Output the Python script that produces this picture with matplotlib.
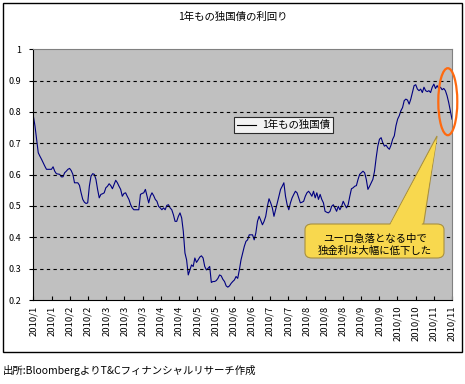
import numpy as np
import matplotlib
matplotlib.use('Agg')
import matplotlib.pyplot as plt
from matplotlib.patches import Ellipse, FancyBboxPatch, Polygon

plt.rcParams['font.family'] = ['Noto Sans CJK JP', 'DejaVu Sans']

# 1年もの独国債の利回り (日次, 2010/1 - 2010/11) 画像から読み取り
yield_jan_mar = [0.788, 0.756, 0.713, 0.670, 0.659, 0.649, 0.638, 0.627, 0.617, 0.617,
                 0.617, 0.617, 0.625, 0.611, 0.603, 0.602, 0.601, 0.593, 0.593, 0.606,
                 0.611, 0.617, 0.620, 0.613, 0.601, 0.574, 0.574, 0.574, 0.566, 0.542,
                 0.521, 0.512, 0.508, 0.510, 0.563, 0.595, 0.603, 0.601, 0.585, 0.553,
                 0.526, 0.537, 0.539, 0.542, 0.558, 0.563, 0.571, 0.565, 0.555, 0.569,
                 0.582, 0.574, 0.563, 0.553, 0.531, 0.540, 0.542, 0.531, 0.521, 0.505]
yield_apr_jun = [0.494, 0.488, 0.488, 0.488, 0.488, 0.537, 0.540, 0.542, 0.553, 0.531,
                 0.510, 0.531, 0.542, 0.533, 0.521, 0.515, 0.499, 0.494, 0.488, 0.494,
                 0.488, 0.502, 0.504, 0.494, 0.488, 0.472, 0.451, 0.451, 0.467, 0.478,
                 0.462, 0.419, 0.350, 0.328, 0.280, 0.296, 0.312, 0.307, 0.334, 0.320,
                 0.328, 0.337, 0.341, 0.334, 0.307, 0.296, 0.301, 0.307, 0.256, 0.259,
                 0.259, 0.262, 0.269, 0.280, 0.277, 0.266, 0.259, 0.245, 0.241, 0.245]
yield_jul_aug = [0.253, 0.259, 0.264, 0.275, 0.269, 0.296, 0.328, 0.350, 0.371, 0.387,
                 0.392, 0.408, 0.408, 0.408, 0.392, 0.414, 0.451, 0.467, 0.454, 0.440,
                 0.451, 0.467, 0.499, 0.523, 0.510, 0.494, 0.467, 0.488, 0.510, 0.531,
                 0.553, 0.563, 0.574, 0.531, 0.504, 0.488, 0.510, 0.526, 0.537, 0.547,
                 0.542, 0.526, 0.510, 0.512, 0.515, 0.531, 0.542, 0.547, 0.540, 0.531,
                 0.547, 0.526, 0.542, 0.521, 0.537, 0.521, 0.510, 0.483, 0.480, 0.478,
                 0.483]
yield_sep_nov = [0.499, 0.504, 0.494, 0.483, 0.499, 0.488, 0.499, 0.515, 0.504, 0.494,
                 0.504, 0.531, 0.555, 0.558, 0.563, 0.565, 0.585, 0.601, 0.606, 0.611,
                 0.606, 0.585, 0.553, 0.563, 0.574, 0.585, 0.611, 0.654, 0.691, 0.713,
                 0.718, 0.702, 0.691, 0.694, 0.686, 0.681, 0.694, 0.713, 0.724, 0.756,
                 0.777, 0.788, 0.804, 0.814, 0.836, 0.841, 0.838, 0.825, 0.841, 0.862,
                 0.884, 0.887, 0.873, 0.868, 0.873, 0.862, 0.879, 0.868, 0.865, 0.868,
                 0.862, 0.879, 0.889, 0.875, 0.884, 0.875, 0.879, 0.871, 0.875, 0.868,
                 0.852, 0.830, 0.804, 0.777]
yields = yield_jan_mar + yield_apr_jun + yield_jul_aug + yield_sep_nov

tick_labels = ['2010/1', '2010/1', '2010/2', '2010/2', '2010/3', '2010/3', '2010/3',
               '2010/4', '2010/4', '2010/5', '2010/5', '2010/6', '2010/6', '2010/7',
               '2010/7', '2010/8', '2010/8', '2010/8', '2010/9', '2010/9', '2010/10',
               '2010/10', '2010/11', '2010/11']
y_ticks = [0.2, 0.3, 0.4, 0.5, 0.6, 0.7, 0.8, 0.9, 1.0]
y_labels = ['0.2', '0.3', '0.4', '0.5', '0.6', '0.7', '0.8', '0.9', '1']

W, H = 465, 384
def px(x, y):
    # pixel -> figure fraction
    return x / W, 1 - y / H

fig = plt.figure(figsize=(W / 100, H / 100), dpi=100)
fig.patch.set_facecolor('white')

# outer frame
fig.patches.append(plt.Rectangle(px(3, 352), 459 / W, 349 / H, transform=fig.transFigure,
                                 fill=False, edgecolor='black', lw=1))

l, b = px(33.3, 300)
ax = fig.add_axes([l, b, (452 - 33.3) / W, (300 - 49.3) / H])
ax.set_facecolor('#C0C0C0')

n = len(yields)
x = np.arange(n)
line, = ax.plot(x, yields, color='#000080', lw=0.8, label='1年もの独国債')

ax.set_xlim(0, n - 1)
ax.set_ylim(0.2, 1.0)
ax.set_yticks(y_ticks)
ax.set_yticklabels(y_labels, fontsize=6.5)
ax.set_xticks(np.linspace(0, n - 1, len(tick_labels)))
ax.set_xticklabels(tick_labels, rotation=90, fontsize=6.8)
ax.tick_params(axis='x', direction='in', length=3, pad=4)
ax.tick_params(axis='y', direction='out', length=3, pad=6)
for yv in y_ticks[1:-1]:
    ax.axhline(yv, color='black', lw=0.8, ls=(0, (3, 3)))
ax.spines['top'].set_color('#808080')
ax.spines['right'].set_color('#808080')
ax.spines['left'].set_color('black')
ax.spines['bottom'].set_color('black')

leg = ax.legend(handles=[line], loc='upper left', bbox_to_anchor=((234 - 33.3) / 418.7, (300 - 117) / 250.7),
                frameon=True, fancybox=False, fontsize=7.5, handlelength=1.8, borderpad=0.3,
                handletextpad=0.6, borderaxespad=0)
leg.get_frame().set_edgecolor('black')
leg.get_frame().set_linewidth(0.8)
leg.legend_handles[0].set_color('black')

fig.text(*px(233, 17), '1年もの独国債の利回り', ha='center', va='center', fontsize=7.5)
fig.text(*px(3, 370), '出所:BloombergよりT&Cフィナンシャルリサーチ作成', ha='left', va='center', fontsize=7.5)

# callout
pointer = Polygon([px(388, 228), px(437, 136), px(423, 228)], closed=True, transform=fig.transFigure,
                  facecolor='#F8D84E', edgecolor='#A89040', lw=0.8)
fig.patches.append(pointer)
bx, by = px(305, 258)
box = FancyBboxPatch((bx, by), 139 / W, 34 / H, boxstyle='round,pad=0,rounding_size=0.015',
                     transform=fig.transFigure, facecolor='#F8D84E', edgecolor='#A89040', lw=0.8)
fig.patches.append(box)
fig.patches.append(Polygon([px(389.5, 226), px(437, 138), px(421.5, 226)], closed=True,
                           transform=fig.transFigure, facecolor='#F8D84E', edgecolor='none'))
fig.text(*px(375, 239), 'ユーロ急落となる中で', ha='center', va='center', fontsize=7.5)
fig.text(*px(375, 251), '独金利は大幅に低下した', ha='center', va='center', fontsize=7.5)

ell = Ellipse(px(447.8, 101.7), 19 / W, 67 / H, transform=fig.transFigure,
              fill=False, edgecolor='#FF6A10', lw=1.6)
fig.patches.append(ell)

fig.savefig('out.png', dpi=100)
